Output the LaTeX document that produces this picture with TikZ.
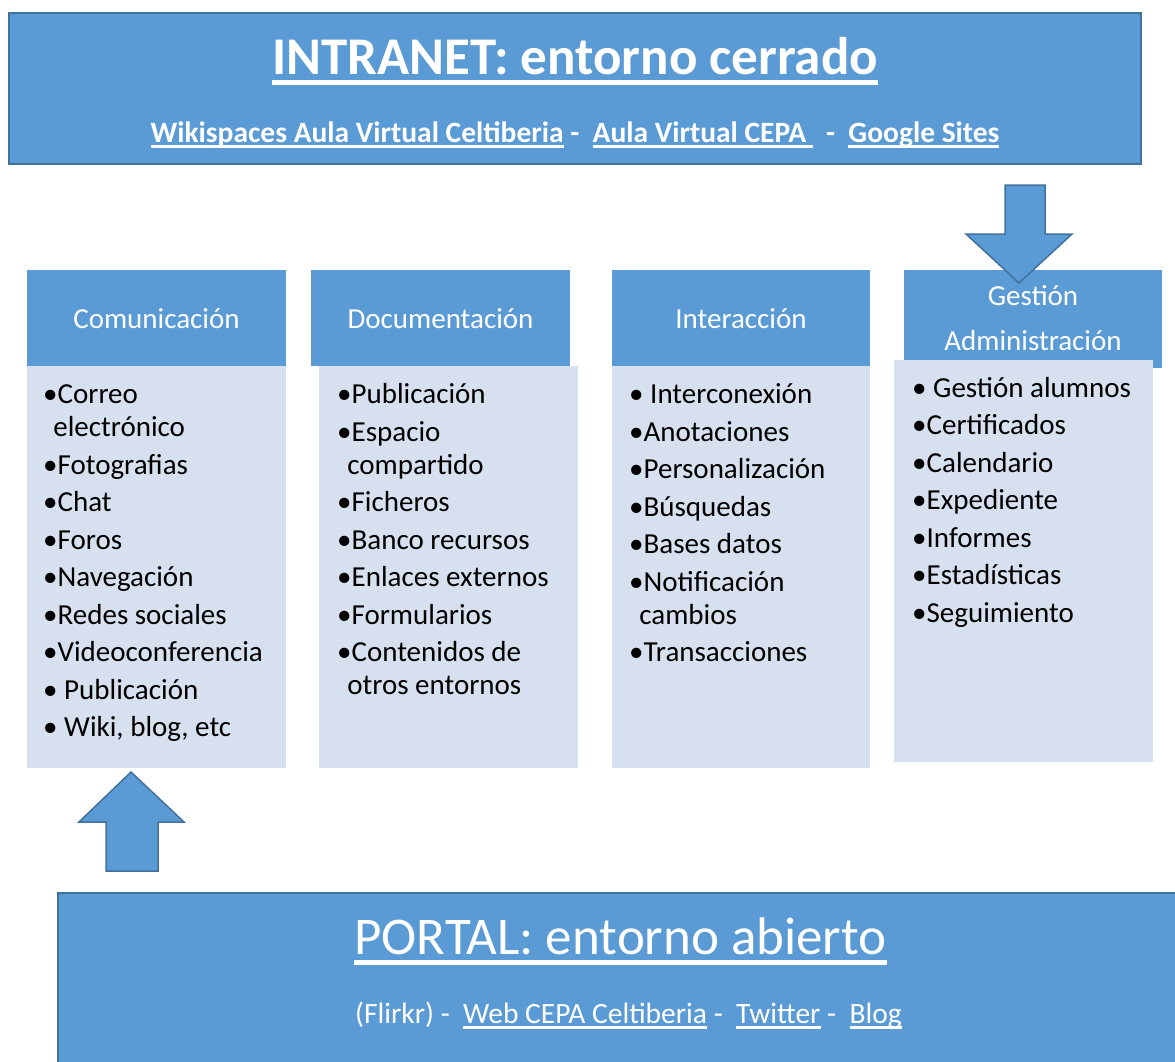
\documentclass[tikz,border=0pt]{standalone}
\usepackage{fontspec}
\setmainfont{Carlito}

\definecolor{boxblue}{RGB}{91,155,213}
\definecolor{edgeblue}{RGB}{65,113,156}
\definecolor{paleblue}{RGB}{214,224,239}

% underlined link text
\newcommand{\lnk}[1]{\setbox0\hbox{#1}\rlap{\vrule height -0.11em depth 0.2em width \wd0}\box0\relax}

\tikzset{
    bigbox/.style={fill=boxblue,draw=edgeblue,line width=2.5pt},
    headbox/.style={fill=boxblue},
    listbox/.style={fill=paleblue},
    blockarrow/.style={fill=boxblue,draw=edgeblue,line width=1.5pt,line join=miter},
    bigtitle/.style={text=white,inner sep=0pt,anchor=base,font=\fontsize{53}{60}\selectfont},
    subtitle/.style={text=white,inner sep=0pt,anchor=base,font=\fontsize{29.5}{34}\selectfont},
    headtxt/.style={text=white,inner sep=0pt,anchor=base,font=\fontsize{29}{34}\selectfont},
    % anchored on the baseline of the last line
    listtxt/.style={inner sep=0pt,anchor=base west,align=left,font=\fontsize{29}{33}\selectfont}
}

\begin{document}
\begin{tikzpicture}[x=1pt,y=-1pt]
    \useasboundingbox (0,0) rectangle (1175,1061);
    \clip (0,0) rectangle (1175,1061);

    % Intranet box
    \draw[bigbox] (9,13) rectangle (1141,164);
    \node[bigtitle,font=\bfseries\fontsize{53}{60}\selectfont] (intranet) at (575,74) {\lnk{INTRANET: entorno cerrado}};
    \node[subtitle,font=\bfseries\fontsize{29.5}{34}\selectfont] (intralinks) at (575,142)
        {\lnk{Wikispaces Aula Virtual Celtiberia} -\ \ \lnk{Aula Virtual CEPA\ }\ \ -\ \ \lnk{Google Sites}};

    % Column headers
    \fill[headbox] (27,270) rectangle (286,366);
    \fill[headbox] (311,270) rectangle (570,366);
    \fill[headbox] (612,270) rectangle (870,366);
    \fill[headbox] (904,270) rectangle (1162,368);
    \node[headtxt] (comhead) at (156.5,328) {Comunicación};
    \node[headtxt] (dochead) at (440.5,328) {Documentación};
    \node[headtxt] (inthead) at (741,328) {Interacción};
    \node[headtxt] (gesthead) at (1033,305) {Gestión};
    \node[headtxt] (admhead) at (1033,350) {Administración};

    % Column lists
    \fill[listbox] (27,366) rectangle (286,768);
    \fill[listbox] (319,366) rectangle (578,768);
    \fill[listbox] (612,366) rectangle (870,768);
    \fill[listbox] (894,360) rectangle (1153,762);

    \node[listtxt] (comlist) at (43,736.5) {•Correo\\
        \hspace{0.35em}electrónico\\[4.5pt]
        •Fotografias\\[4.5pt]
        •Chat\\[4.5pt]
        •Foros\\[4.5pt]
        •Navegación\\[4.5pt]
        •Redes sociales\\[4.5pt]
        •Videoconferencia\\[4.5pt]
        • Publicación\\[4.5pt]
        • Wiki, blog, etc};
    \node[listtxt] (doclist) at (337,694.5) {•Publicación\\[4.5pt]
        •Espacio\\
        \hspace{0.35em}compartido\\[4.5pt]
        •Ficheros\\[4.5pt]
        •Banco recursos\\[4.5pt]
        •Enlaces externos\\[4.5pt]
        •Formularios\\[4.5pt]
        •Contenidos de\\
        \hspace{0.35em}otros entornos};
    \node[listtxt] (intlist) at (629,661.5) {• Interconexión\\[4.5pt]
        •Anotaciones\\[4.5pt]
        •Personalización\\[4.5pt]
        •Búsquedas\\[4.5pt]
        •Bases datos\\[4.5pt]
        •Notificación\\
        \hspace{0.35em}cambios\\[4.5pt]
        •Transacciones};
    \node[listtxt] (gestlist) at (912,622) {• Gestión alumnos\\[4.5pt]
        •Certificados\\[4.5pt]
        •Calendario\\[4.5pt]
        •Expediente\\[4.5pt]
        •Informes\\[4.5pt]
        •Estadísticas\\[4.5pt]
        •Seguimiento};

    % Block arrows
    \draw[blockarrow] (1005,185) -- (1045,185) -- (1045,234) -- (1072,234)
        -- (1019,283) -- (966,234) -- (1005,234) -- cycle;
    \draw[blockarrow] (106,871) -- (158,871) -- (158,822) -- (184,822)
        -- (131,772) -- (79,822) -- (106,822) -- cycle;

    % Portal box
    \draw[bigbox] (58,893) rectangle (1190,1075);
    \node[bigtitle] (portal) at (620.5,954) {\lnk{PORTAL: entorno abierto}};
    \node[subtitle] (portallinks) at (628.5,1023)
        {(Flirkr) -\ \ \lnk{Web CEPA Celtiberia} -\ \ \lnk{Twitter} -\ \ \lnk{Blog}};
\end{tikzpicture}
\end{document}
